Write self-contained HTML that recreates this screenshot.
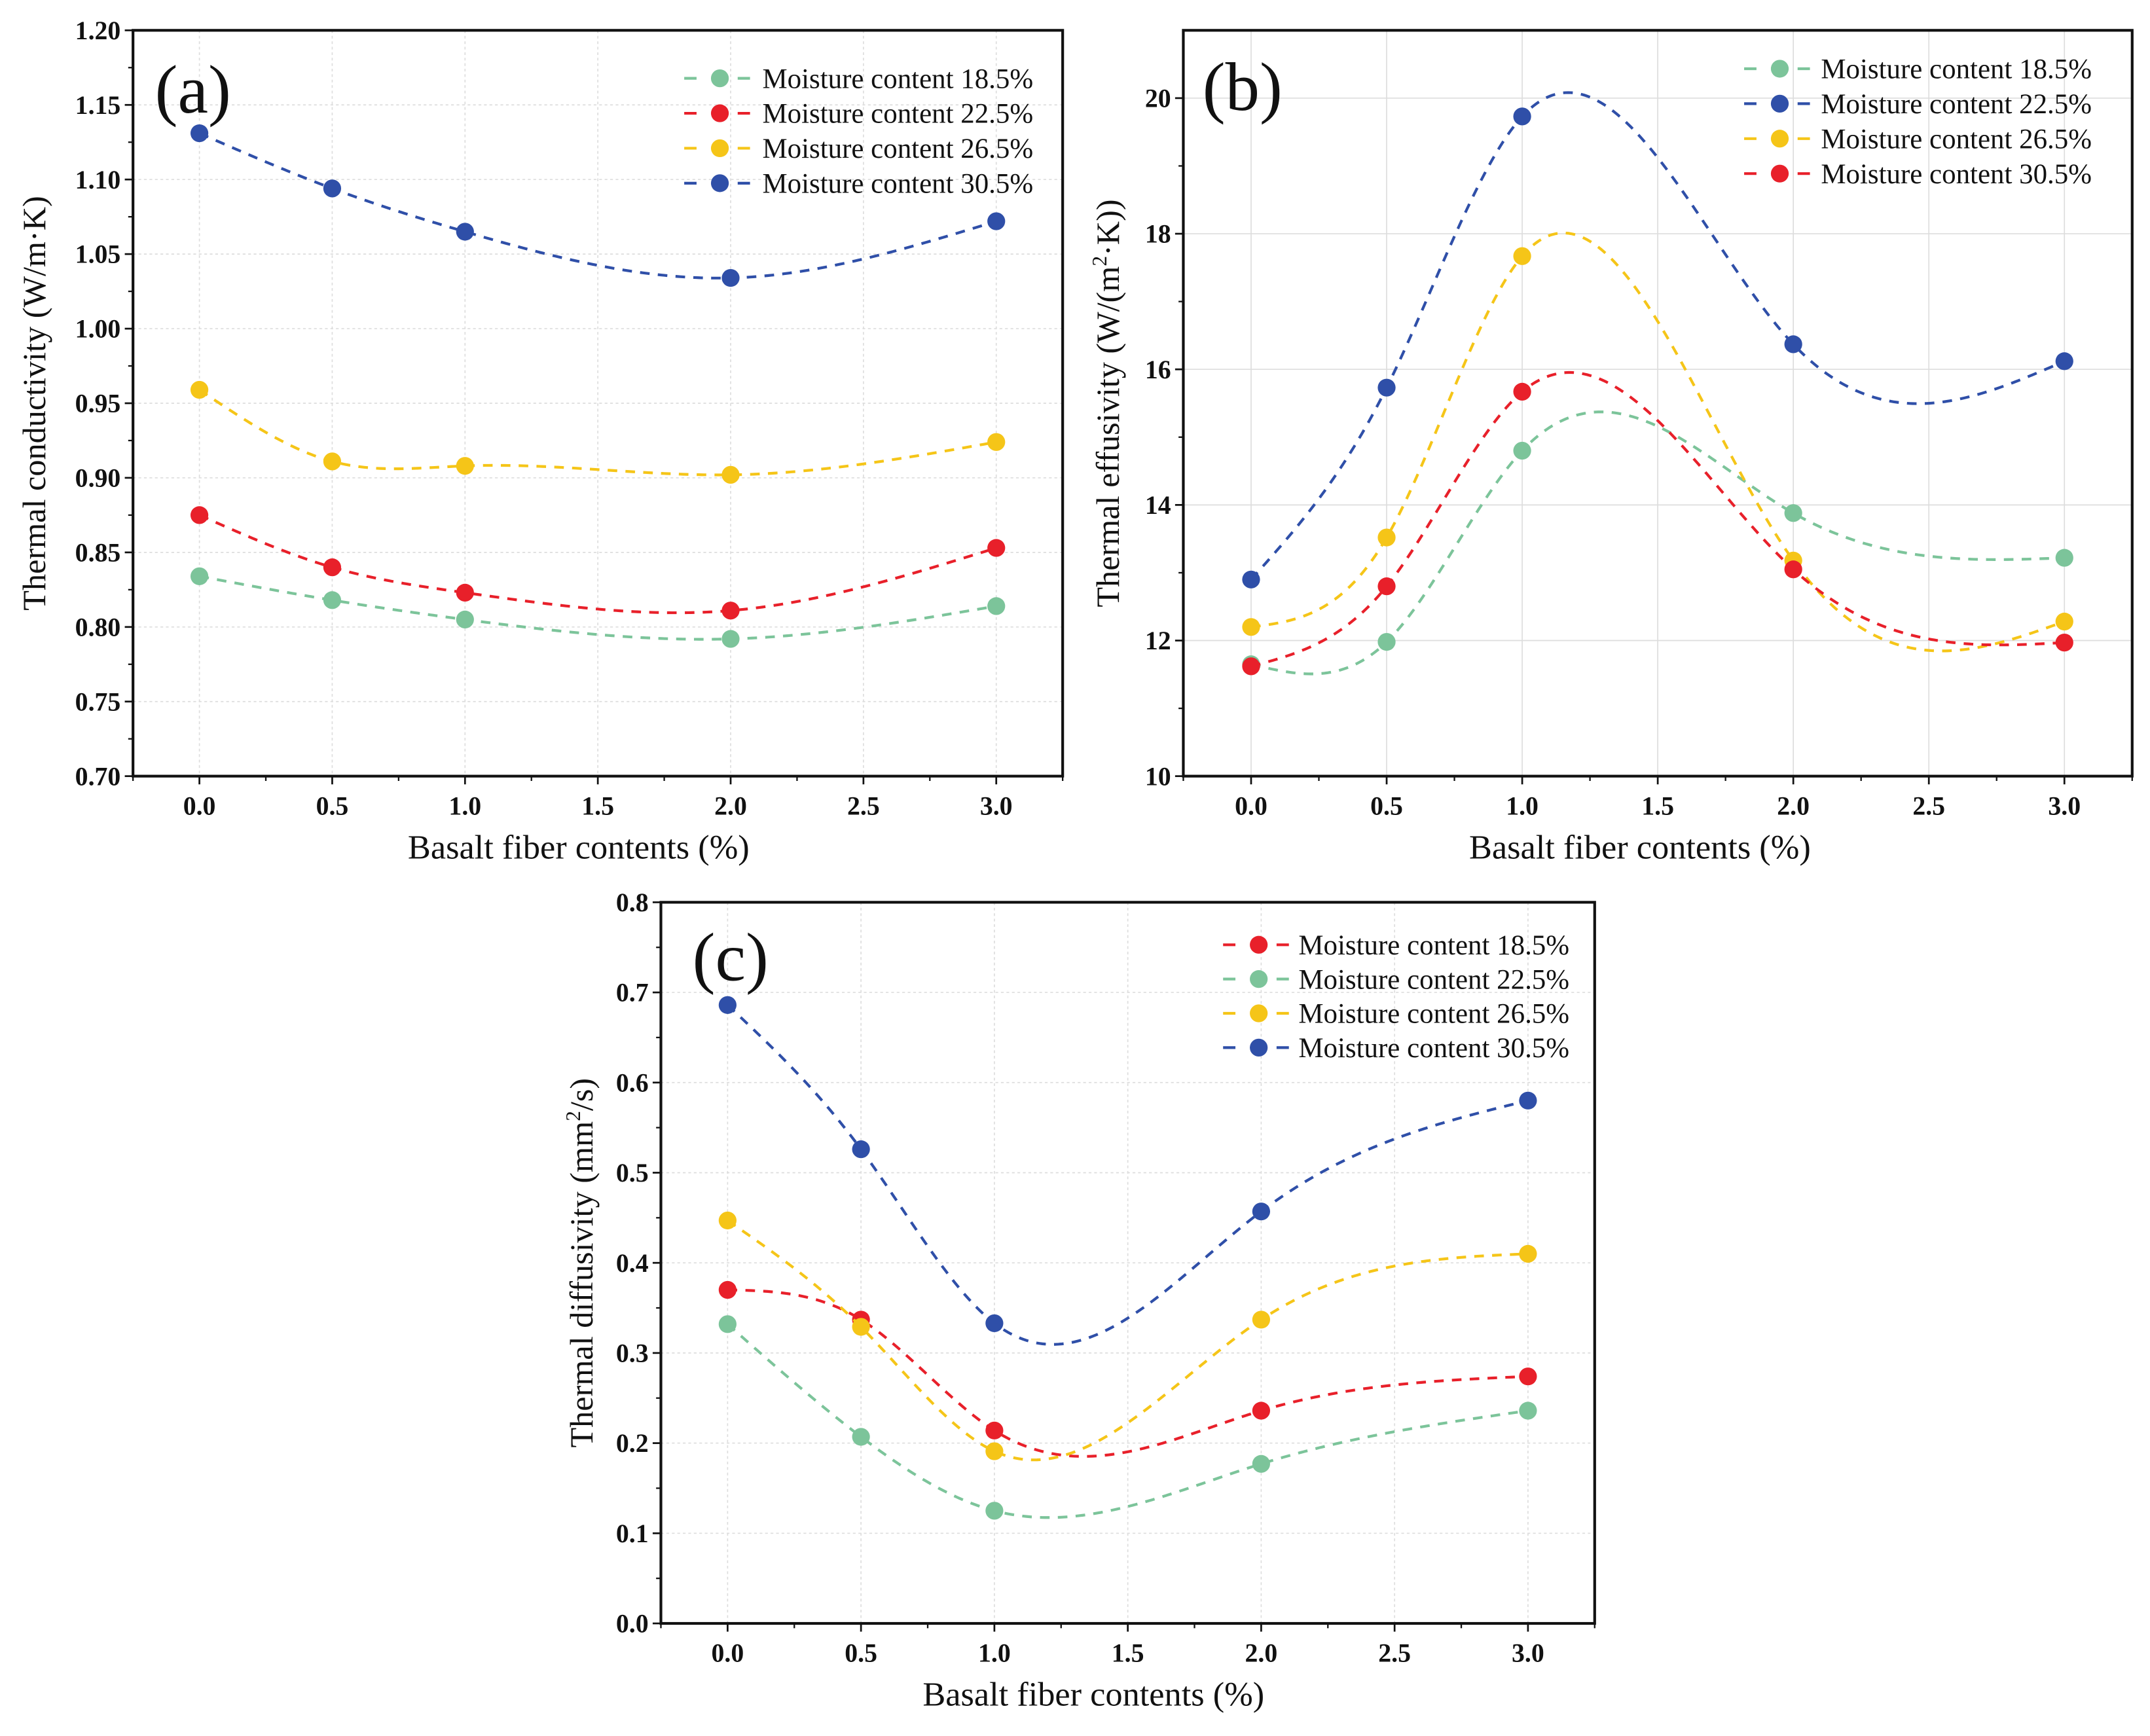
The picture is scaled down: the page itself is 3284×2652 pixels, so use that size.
<!DOCTYPE html>
<html><head><meta charset="utf-8">
<style>
html,body{margin:0;padding:0;background:#fff;}
svg{display:block;}
text{font-family:"Liberation Serif",serif;fill:#111;}
</style></head>
<body>
<svg id="fig" width="3284" height="2652" viewBox="0 0 1568 1266" xmlns="http://www.w3.org/2000/svg"></svg>
<script>
// ---------- data ----------
const xCats = [0, 0.5, 1, 2, 3];
const xTickLabels = ["0.0","0.5","1.0","1.5","2.0","2.5","3.0"];
// panel a
const aLabels = ["Moisture content 18.5%","Moisture content 22.5%","Moisture content 26.5%","Moisture content 30.5%"];
const a185 = [0.834,0.818,0.805,0.792,0.814];
const a225 = [0.875,0.840,0.823,0.811,0.853];
const a265 = [0.959,0.911,0.908,0.902,0.924];
const a305 = [1.131,1.094,1.065,1.034,1.072];
const aYTicks = ["0.70","0.75","0.80","0.85","0.90","0.95","1.00","1.05","1.10","1.15","1.20"];
// panel b
const bLabels = ["Moisture content 18.5%","Moisture content 22.5%","Moisture content 26.5%","Moisture content 30.5%"];
const b185 = [11.65,11.98,14.80,13.88,13.22];
const b225 = [12.90,15.73,19.73,16.37,16.12];
const b265 = [12.20,13.52,17.67,13.18,12.28];
const b305 = [11.62,12.80,15.67,13.05,11.97];
const bYTicks = ["10","12","14","16","18","20"];
// panel c
const cLabels = ["Moisture content 18.5%","Moisture content 22.5%","Moisture content 26.5%","Moisture content 30.5%"];
const c185 = [0.370,0.337,0.214,0.236,0.274];
const c225 = [0.332,0.207,0.125,0.177,0.236];
const c265 = [0.447,0.329,0.191,0.337,0.410];
const c305 = [0.686,0.526,0.333,0.457,0.580];
const cYTicks = ["0.0","0.1","0.2","0.3","0.4","0.5","0.6","0.7","0.8"];

const GREEN="#7cc49a", RED="#e8202a", YELLOW="#f5c518", BLUE="#2f4fa8";
const NS="http://www.w3.org/2000/svg";
const svg=document.getElementById('fig');
function mk(tag,attrs,parent){const e=document.createElementNS(NS,tag);for(const k in attrs)e.setAttribute(k,attrs[k]);(parent||svg).appendChild(e);return e;}

function spline(xs,ys){
  const n=xs.length, h=[], al=[], l=[1], mu=[0], z=[0], c=new Array(n).fill(0), b=[], d=[];
  for(let i=0;i<n-1;i++)h.push(xs[i+1]-xs[i]);
  for(let i=1;i<n-1;i++)al[i]=3/h[i]*(ys[i+1]-ys[i])-3/h[i-1]*(ys[i]-ys[i-1]);
  for(let i=1;i<n-1;i++){l[i]=2*(xs[i+1]-xs[i-1])-h[i-1]*mu[i-1];mu[i]=h[i]/l[i];z[i]=(al[i]-h[i-1]*z[i-1])/l[i];}
  for(let j=n-2;j>=0;j--){
    if(j>0)c[j]=z[j]-mu[j]*c[j+1];
    b[j]=(ys[j+1]-ys[j])/h[j]-h[j]*(c[j+1]+2*c[j])/3;d[j]=(c[j+1]-c[j])/(3*h[j]);}
  return t=>{let i=0;while(i<n-2&&t>xs[i+1])i++;const dx=t-xs[i];return ys[i]+b[i]*dx+c[i]*dx*dx+d[i]*dx*dx*dx;};
}

function panel(cfg){
  const g=mk('g',{});
  
  
  const {L,R,T,B,ymin,ymax,yTicks,yStep}=cfg;
  const X=v=>L+(v+0.25)/3.5*(R-L);
  const Y=v=>B-(v-ymin)/(ymax-ymin)*(B-T);
  const grid=mk('g',{},g);
  
  
  for(let i=0;i<xTickLabels.length;i++){const x=X(i*0.5);
    mk('line',{x1:x,x2:x,y1:T,y2:B,stroke:'#ddd','stroke-width':0.8,'stroke-dasharray':cfg.gridDash||'2,2'},grid);}
  yTicks.forEach((t,i)=>{const y=Y(+t);if(y>T+1&&y<B-1)mk('line',{x1:L,x2:R,y1:y,y2:y,stroke:'#ddd','stroke-width':0.8,'stroke-dasharray':cfg.gridDash||'2,2'},grid);});
  for(let i=0;i<xTickLabels.length;i++){const x=X(i*0.5);
    mk('line',{x1:x,x2:x,y1:B,y2:B+6,stroke:'#111','stroke-width':1.3},g);
    const xm=X(i*0.5+0.25); mk('line',{x1:xm,x2:xm,y1:B,y2:B+3.5,stroke:'#111','stroke-width':1.1},g);
    const xm2=X(i*0.5-0.25); if(i===0) mk('line',{x1:xm2,x2:xm2,y1:B,y2:B+3.5,stroke:'#111','stroke-width':1.1},g);
    const tl=mk('text',{x:x,y:B+28,'text-anchor':'middle','font-size':19,'font-weight':'bold'},g);
    
    
    tl.textContent=xTickLabels[i];}
  yTicks.forEach((t,i)=>{const y=Y(+t);
    mk('line',{x1:L-6,x2:L,y1:y,y2:y,stroke:'#111','stroke-width':1.3},g);
    const ym=Y(+t+yStep/2); if(ym>T) mk('line',{x1:L-3.5,x2:L,y1:ym,y2:ym,stroke:'#111','stroke-width':1.1},g);
    const tl=mk('text',{x:L-9,y:y+6.5,'text-anchor':'end','font-size':19,'font-weight':'bold'},g);
    
    
    tl.textContent=t;});
  const fr=mk('rect',{x:L,y:T,width:R-L,height:B-T,fill:'none',stroke:'#111','stroke-width':2},g);
  
  
  cfg.series.forEach((s,si)=>{
    const sg=mk('g',{},g);
    
    
    const f=spline(xCats,s.vals);let d='';
    for(let k=0;k<=300;k++){const t=k/300*3;d+=(k?'L':'M')+X(t).toFixed(2)+','+Y(f(t)).toFixed(2);}
    const p=mk('path',{d:d,fill:'none',stroke:s.color,'stroke-width':2,'stroke-dasharray':'7,6'},sg);
    
    
    s.vals.forEach((v,i)=>{const c=mk('circle',{cx:X(xCats[i]),cy:Y(v),r:6.5,fill:s.color},sg);
      
      });
  });
  const lg=mk('g',{},g);
  
  
  cfg.series.forEach((s,i)=>{const y=cfg.legY+i*cfg.legDy, mx=cfg.legX;
    const e=mk('g',{},lg);
    
    
    mk('line',{x1:mx-26,x2:mx+22,y1:y,y2:y,stroke:s.color,'stroke-width':2,'stroke-dasharray':'9,30'},e);
    mk('circle',{cx:mx,cy:y,r:6.5,fill:s.color},e);
    const t=mk('text',{x:mx+cfg.legTx,y:y+7,'font-size':20.5},e);t.textContent=s.label;});
  const xt=mk('text',{x:(L+R)/2+cfg.xtOff,y:B+60,'text-anchor':'middle','font-size':25},g);
  
  
  xt.textContent='Basalt fiber contents (%)';
  const yt=mk('text',{x:0,y:0,'text-anchor':'middle','font-size':24,transform:`translate(${cfg.ytX},${(T+B)/2}) rotate(-90)`},g);
  
  
  yt.innerHTML=cfg.ytitle;
  const pl=mk('text',{x:cfg.lbX,y:cfg.lbY,'font-size':50},g);
  
  
  pl.textContent=cfg.lbl;
}

panel({name:'panel-a',L:97,R:775,T:22,B:566,ymin:0.70,ymax:1.20,yTicks:aYTicks,yStep:0.05,xtOff:-14,
  series:[{key:'18-5',vals:a185,color:GREEN,label:aLabels[0]},{key:'22-5',vals:a225,color:RED,label:aLabels[1]},
          {key:'26-5',vals:a265,color:YELLOW,label:aLabels[2]},{key:'30-5',vals:a305,color:BLUE,label:aLabels[3]}],
  legX:525,legY:57,legDy:25.5,legTx:31,ytX:33,ytitle:'Thermal conductivity (W/m·K)',lbX:113,lbY:82,lbl:'(a)'});
panel({name:'panel-b',L:863,R:1555,T:22,B:566,ymin:10,ymax:21,yTicks:bYTicks,yStep:2,gridDash:'none',xtOff:-13,
  series:[{key:'18-5',vals:b185,color:GREEN,label:bLabels[0]},{key:'22-5',vals:b225,color:BLUE,label:bLabels[1]},
          {key:'26-5',vals:b265,color:YELLOW,label:bLabels[2]},{key:'30-5',vals:b305,color:RED,label:bLabels[3]}],
  legX:1298,legY:50,legDy:25.5,legTx:30,ytX:816,ytitle:'Thermal effusivity (W/(m<tspan font-size="15" dy="-9">2</tspan><tspan dy="9">·K))</tspan>',lbX:877,lbY:80,lbl:'(b)'});
panel({name:'panel-c',L:482,R:1163,T:658,B:1184,ymin:0,ymax:0.8,yTicks:cYTicks,yStep:0.1,xtOff:-25,
  series:[{key:'18-5',vals:c185,color:RED,label:cLabels[0]},{key:'22-5',vals:c225,color:GREEN,label:cLabels[1]},
          {key:'26-5',vals:c265,color:YELLOW,label:cLabels[2]},{key:'30-5',vals:c305,color:BLUE,label:cLabels[3]}],
  legX:918,legY:689,legDy:25,legTx:29,ytX:432,ytitle:'Thermal diffusivity (mm<tspan font-size="15" dy="-9">2</tspan><tspan dy="9">/s)</tspan>',lbX:505,lbY:715,lbl:'(c)'});
</script>
</body></html>
